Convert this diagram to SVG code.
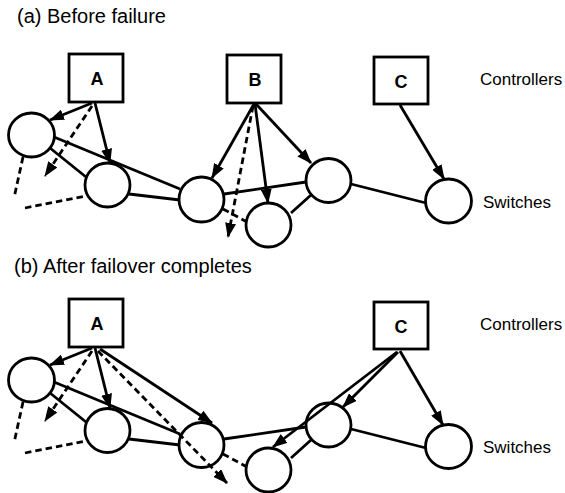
<svg xmlns="http://www.w3.org/2000/svg" width="565" height="493" viewBox="0 0 565 493">
<defs>
<marker id="ah" viewBox="0 0 15 11" refX="14" refY="5.5" markerWidth="15" markerHeight="11" markerUnits="userSpaceOnUse" orient="auto">
<path d="M0,0 L15,5.5 L0,11 z" fill="#000"/>
</marker>
</defs>
<style>
.title{font-family:"Liberation Sans",Arial,sans-serif;font-size:20px;fill:#000}
.lbl{font-family:"Liberation Sans",Arial,sans-serif;font-size:17px;fill:#000}
.ctl rect{fill:#fff;stroke:#000;stroke-width:2.8}
.ctl text{font-family:"Liberation Sans",Arial,sans-serif;font-size:18px;font-weight:bold;text-anchor:middle;fill:#000}
.sw ellipse{fill:#fff;stroke:#000;stroke-width:2.8}
.e{stroke:#000;stroke-width:2.8;fill:none}
.d{stroke:#000;stroke-width:2.8;fill:none;stroke-dasharray:6.5,4}
.a{marker-end:url(#ah)}
</style>
<rect width="565" height="493" fill="#fff"/>

<text class="title" x="17" y="23">(a) Before failure</text>
<text class="lbl" x="480" y="85">Controllers</text>
<text class="lbl" x="483" y="208">Switches</text>

<text class="title" x="14" y="273">(b) After failover completes</text>
<text class="lbl" x="480" y="330">Controllers</text>
<text class="lbl" x="483" y="453">Switches</text>

<!-- Panel (a) nodes -->
<g id="a-ctrl-A" class="ctl"><rect x="69" y="54" width="54" height="48"/><text x="97" y="85">A</text></g>
<g id="a-ctrl-B" class="ctl"><rect x="227" y="55" width="54" height="48"/><text x="255" y="86">B</text></g>
<g id="a-ctrl-C" class="ctl"><rect x="374" y="57" width="54" height="47"/><text x="401" y="88">C</text></g>
<g id="a-sw1" class="sw"><ellipse cx="31.5" cy="135" rx="23" ry="22"/></g>
<g id="a-sw2" class="sw"><ellipse cx="107.5" cy="185" rx="22.5" ry="22"/></g>
<g id="a-sw3" class="sw"><ellipse cx="201.5" cy="199.5" rx="22.5" ry="22.5"/></g>
<g id="a-sw4" class="sw"><ellipse cx="268.5" cy="225" rx="22.5" ry="22"/></g>
<g id="a-sw5" class="sw"><ellipse cx="328.5" cy="180.5" rx="22.5" ry="22"/></g>
<g id="a-sw6" class="sw"><ellipse cx="448.5" cy="201" rx="23" ry="22"/></g>

<!-- Panel (b) nodes -->
<g id="b-ctrl-A" class="ctl"><rect x="69" y="299" width="54" height="48"/><text x="97" y="330">A</text></g>
<g id="b-ctrl-C" class="ctl"><rect x="374" y="302" width="54" height="47"/><text x="401" y="333">C</text></g>
<g id="b-sw1" class="sw"><ellipse cx="31.5" cy="380" rx="23" ry="22"/></g>
<g id="b-sw2" class="sw"><ellipse cx="107.5" cy="430.5" rx="22.5" ry="22"/></g>
<g id="b-sw3" class="sw"><ellipse cx="201.5" cy="445" rx="22.5" ry="22.5"/></g>
<g id="b-sw4" class="sw"><ellipse cx="268.5" cy="470" rx="22.5" ry="22"/></g>
<g id="b-sw5" class="sw"><ellipse cx="328.5" cy="425" rx="22.5" ry="22"/></g>
<g id="b-sw6" class="sw"><ellipse cx="448.5" cy="446.5" rx="23" ry="22"/></g>

<g id="connectors">
<g id="a-conn">
<line class="e" x1="54" y1="137" x2="180" y2="189"/>
<line class="e" x1="50" y1="148" x2="86" y2="177"/>
<line class="e" x1="129" y1="194" x2="180" y2="200"/>
<line class="e" x1="224" y1="194" x2="306" y2="182"/>
<line class="e" x1="291" y1="213" x2="311" y2="195"/>
<line class="e" x1="351" y1="184" x2="426" y2="203"/>
<line class="d" x1="223" y1="209" x2="247" y2="222"/>
<line class="d" x1="23" y1="157" x2="14" y2="198"/>
<line class="d" x1="25" y1="208" x2="86" y2="196"/>
<line class="e a" x1="92" y1="103" x2="50" y2="120"/>
<line class="e a" x1="95" y1="103" x2="110" y2="163"/>
<line class="d a" x1="92" y1="106" x2="45" y2="176"/>
<line class="e a" x1="254" y1="104" x2="212" y2="178"/>
<line class="e a" x1="255" y1="104" x2="268" y2="203"/>
<line class="e a" x1="256" y1="104" x2="311" y2="163"/>
<line class="d a" x1="253" y1="106" x2="228" y2="237"/>
<line class="e a" x1="400" y1="105" x2="444" y2="179"/>
</g>
<g id="b-conn" transform="translate(0,245)">
<line class="e" x1="54" y1="137" x2="180" y2="189"/>
<line class="e" x1="50" y1="148" x2="86" y2="177"/>
<line class="e" x1="129" y1="194" x2="180" y2="200"/>
<line class="e" x1="224" y1="194" x2="306" y2="182"/>
<line class="e" x1="291" y1="213" x2="311" y2="195"/>
<line class="e" x1="351" y1="184" x2="426" y2="203"/>
<line class="d" x1="223" y1="209" x2="247" y2="222"/>
<line class="d" x1="23" y1="157" x2="14" y2="198"/>
<line class="d" x1="25" y1="208" x2="86" y2="196"/>
<line class="e a" x1="92" y1="103" x2="50" y2="120"/>
<line class="e a" x1="95" y1="103" x2="110" y2="163"/>
<line class="d a" x1="92" y1="106" x2="45" y2="176"/>
<line class="e a" x1="100" y1="104" x2="212" y2="178"/>
<line class="d a" x1="98" y1="106" x2="227" y2="238"/>
<line class="e a" x1="400" y1="106" x2="443" y2="180"/>
<line class="e a" x1="398" y1="107" x2="343" y2="162"/>
<line class="e a" x1="397" y1="107" x2="273" y2="202"/>
</g>
</g>
</svg>
